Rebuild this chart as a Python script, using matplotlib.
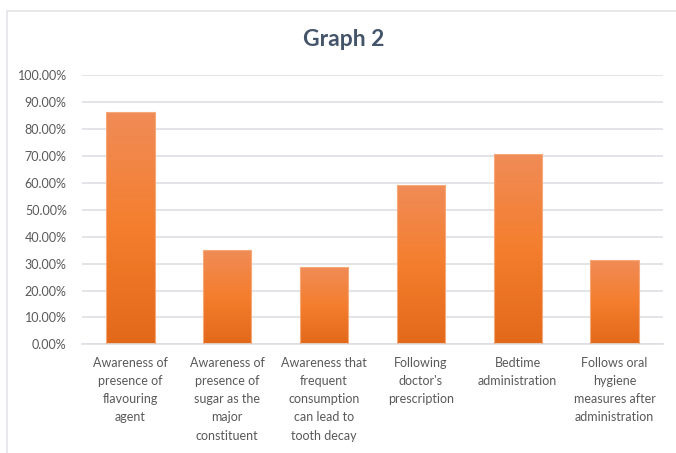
import numpy as np
import matplotlib
matplotlib.use("Agg")
import matplotlib.pyplot as plt
from matplotlib.patches import Rectangle
from matplotlib.colors import LinearSegmentedColormap
from matplotlib.ticker import PercentFormatter

categories = [
    "Awareness of\npresence of\nflavouring\nagent",
    "Awareness of\npresence of\nsugar as the\nmajor\nconstituent",
    "Awareness that\nfrequent\nconsumption\ncan lead to\ntooth decay",
    "Following\ndoctor's\nprescription",
    "Bedtime\nadministration",
    "Follows oral\nhygiene\nmeasures after\nadministration",
]
values = [86.5, 35.2, 28.6, 59.2, 70.7, 31.5]
y_ticks = list(range(0, 101, 10))

plt.rcParams["font.family"] = ["Lato", "DejaVu Sans"]

fig = plt.figure(figsize=(6.76, 4.53), dpi=100)
fig.patch.set_facecolor("white")

# light frame around the chart area
fig.patches.append(Rectangle((7 / 676, -0.05), 1.1, 1 - 11 / 453 + 0.05,
                             transform=fig.transFigure, fill=False,
                             edgecolor="#e4e4ea", linewidth=1.2))

ax = fig.add_axes([82 / 676, 1 - 344.3 / 453, 581 / 676, 269 / 453])
x = np.arange(len(categories))

# vertical orange gradient, lighter at top, darker at bottom
grad = LinearSegmentedColormap.from_list(
    "bar", ["#e2691a", "#f47e2d", "#f08c58"])
gradient = np.linspace(0, 1, 256).reshape(-1, 1)

bars = ax.bar(x, values, width=0.5, color="none",
              edgecolor="#f6a878", linewidth=0.8, zorder=4)
for b in bars:
    x0, w, h = b.get_x(), b.get_width(), b.get_height()
    im = ax.imshow(gradient, cmap=grad, origin="lower", aspect="auto",
                   extent=[x0, x0 + w, 0, h], zorder=2)
    im.set_clip_path(b)

ax.set_xlim(-0.5, len(categories) - 0.5)
ax.set_ylim(0, 100)

ax.set_yticks(y_ticks)
ax.yaxis.set_major_formatter(PercentFormatter(decimals=2))
ax.set_xticks(x)
ax.set_xticklabels(categories, linespacing=1.62)
ax.tick_params(axis="both", length=0, colors="#595959", labelsize=9)
ax.tick_params(axis="y", pad=11)
ax.tick_params(axis="x", pad=9)
ax.grid(axis="y", color="#dedee4", linewidth=1.2, zorder=0)
ax.set_axisbelow(True)
for side in ["left", "right", "top"]:
    ax.spines[side].set_visible(False)
ax.spines["bottom"].set_color("#dedee4")
ax.spines["bottom"].set_linewidth(1.2)

fig.text(344 / 676, 1 - 40 / 453, "Graph 2", ha="center", va="center",
         fontsize=16.5, fontweight="bold", color="#44546a")

fig.savefig("out.png", dpi=100)
